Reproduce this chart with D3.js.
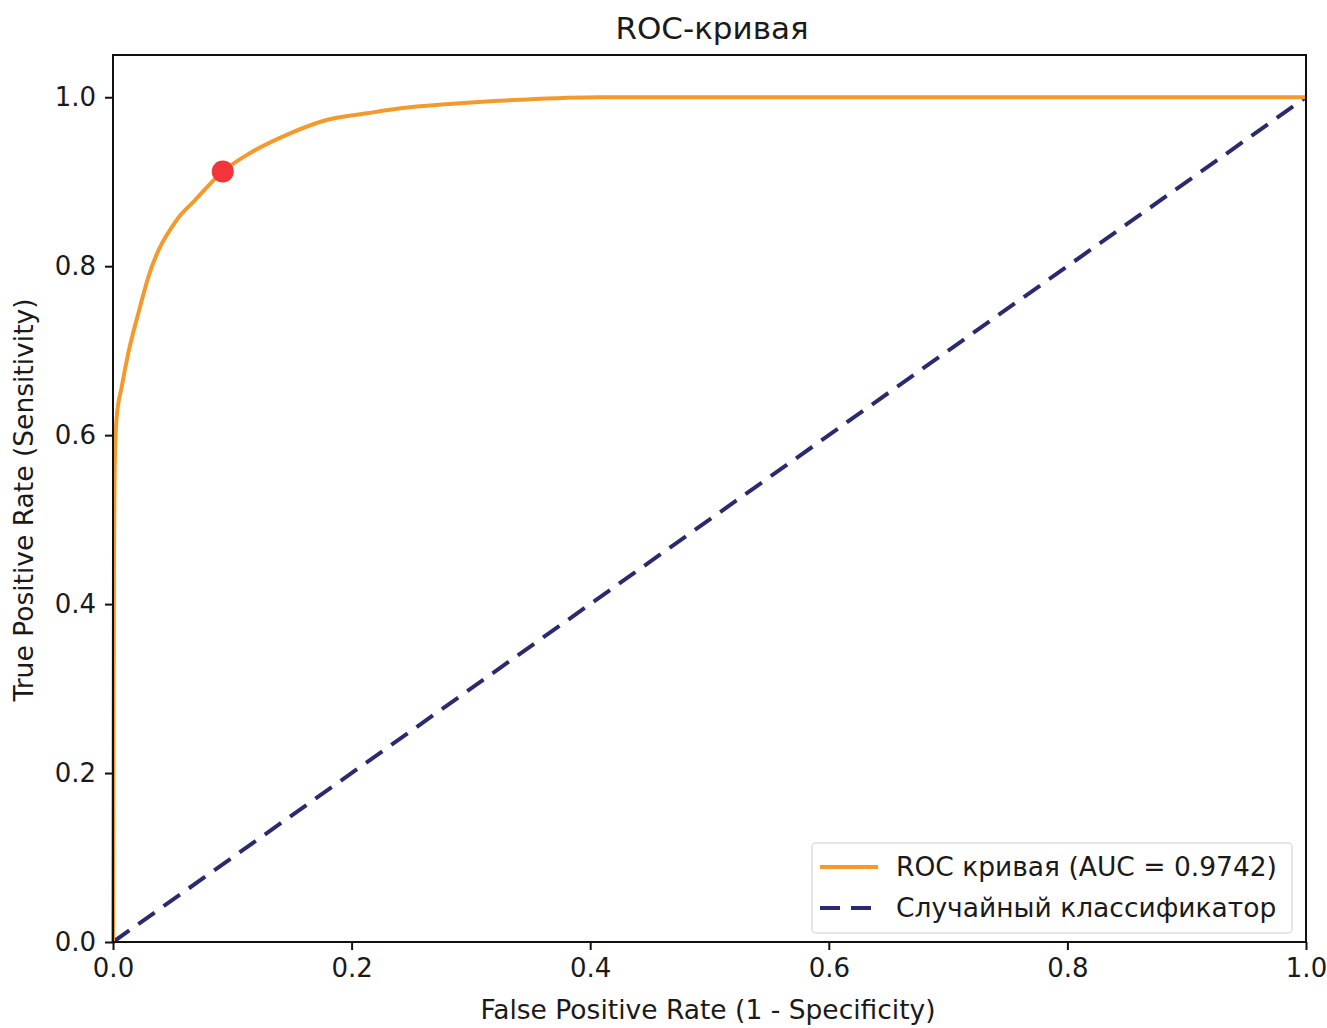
<!DOCTYPE html>
<html>
<head>
<meta charset="utf-8">
<script src="https://cdn.jsdelivr.net/npm/d3@7"></script>
<style>
  body { margin: 0; background: #fff; }
  text { font-family: "DejaVu Sans", sans-serif; fill: #1a1a1a; }
</style>
</head>
<body>
<svg id="chart" width="1327" height="1028"></svg>
<script>
// ROC curve points
var fpr = [0, 0.0008, 0.0017, 0.0031, 0.0073, 0.0128, 0.0212, 0.0296, 0.053, 0.0687, 0.092, 0.115, 0.148, 0.179, 0.213, 0.241, 0.282, 0.341, 0.408, 0.6, 0.8, 1.0];
var tpr = [0, 0.45, 0.582, 0.621, 0.657, 0.697, 0.744, 0.787, 0.854, 0.878, 0.912, 0.934, 0.957, 0.973, 0.981, 0.987, 0.992, 0.997, 1.0, 1.0, 1.0, 1.0];
var randomX = [0, 1];
var randomY = [0, 1];
var optimalPoint = [0.092, 0.912];
var tickValues = [0, 0.2, 0.4, 0.6, 0.8, 1.0];
var legendLabels = ["ROC кривая (AUC = 0.9742)", "Случайный классификатор"];

var margin = {left: 113, right: 21, top: 55, bottom: 86};
var width = 1327, height = 1028;

var svg = d3.select("#chart");

var xScale = d3.scaleLinear().domain([0, 1]).range([margin.left, width - margin.right]);
var yScale = d3.scaleLinear().domain([0, 1.05]).range([height - margin.bottom, margin.top]);

// axes
var xAxis = d3.axisBottom(xScale).tickValues(tickValues).tickFormat(d3.format(".1f")).tickSize(8).tickPadding(9);
var yAxis = d3.axisLeft(yScale).tickValues(tickValues).tickFormat(d3.format(".1f")).tickSize(8).tickPadding(9);

var line = d3.line()
  .x(function(d) { return xScale(d[0]); })
  .y(function(d) { return yScale(d[1]); });

// random classifier (dashed)
svg.append("path")
  .datum(randomX.map(function(x, i) { return [x, randomY[i]]; }))
  .attr("d", line)
  .attr("fill", "none")
  .attr("stroke", "#2b2a6e")
  .attr("stroke-width", 4)
  .attr("stroke-dasharray", "20,11");

// ROC curve
svg.append("path")
  .datum(fpr.map(function(x, i) { return [x, tpr[i]]; }))
  .attr("d", line.curve(d3.curveMonotoneX))
  .attr("fill", "none")
  .attr("stroke", "#f4992c")
  .attr("stroke-width", 4);

// optimal threshold point
svg.append("circle")
  .attr("cx", xScale(optimalPoint[0]))
  .attr("cy", yScale(optimalPoint[1]))
  .attr("r", 11)
  .attr("fill", "#f2353a");

// frame
svg.append("rect")
  .attr("x", margin.left)
  .attr("y", margin.top)
  .attr("width", width - margin.left - margin.right)
  .attr("height", height - margin.top - margin.bottom)
  .attr("fill", "none")
  .attr("stroke", "#111")
  .attr("stroke-width", 2);

var gx = svg.append("g")
  .attr("transform", "translate(0," + (height - margin.bottom) + ")")
  .call(xAxis);
var gy = svg.append("g")
  .attr("transform", "translate(" + margin.left + ",0)")
  .call(yAxis);

[gx, gy].forEach(function(g) {
  g.select(".domain").remove();
  g.selectAll("line").attr("stroke", "#111").attr("stroke-width", 2);
  g.selectAll("text").style("font-size", "26px").style("font-family", "DejaVu Sans, sans-serif").attr("fill", "#1a1a1a");
});

// title and labels
svg.append("text")
  .attr("x", 712).attr("y", 39)
  .attr("text-anchor", "middle")
  .style("font-size", "31px")
  .text("ROC-кривая");

svg.append("text")
  .attr("x", 708).attr("y", 1019)
  .attr("text-anchor", "middle")
  .style("font-size", "26.5px")
  .text("False Positive Rate (1 - Specificity)");

svg.append("text")
  .attr("transform", "translate(33," + 500 + ") rotate(-90)")
  .attr("text-anchor", "middle")
  .style("font-size", "26.5px")
  .text("True Positive Rate (Sensitivity)");

// legend
var legend = svg.append("g").attr("transform", "translate(812,843)");
legend.append("rect")
  .attr("width", 480).attr("height", 90).attr("rx", 4)
  .attr("fill", "#fff").attr("stroke", "#ddd").attr("stroke-width", 1.5);

var legendStyles = [
  {color: "#f4992c", dash: null},
  {color: "#2b2a6e", dash: "20,11"}
];
legendLabels.forEach(function(label, i) {
  var yy = 24 + i * 41;
  legend.append("line")
    .attr("x1", 8).attr("x2", 66).attr("y1", yy).attr("y2", yy)
    .attr("stroke", legendStyles[i].color)
    .attr("stroke-width", 4)
    .attr("stroke-dasharray", legendStyles[i].dash);
  legend.append("text")
    .attr("x", 84).attr("y", yy + 9)
    .style("font-size", "26.5px")
    .text(label);
});
</script>
</body>
</html>
